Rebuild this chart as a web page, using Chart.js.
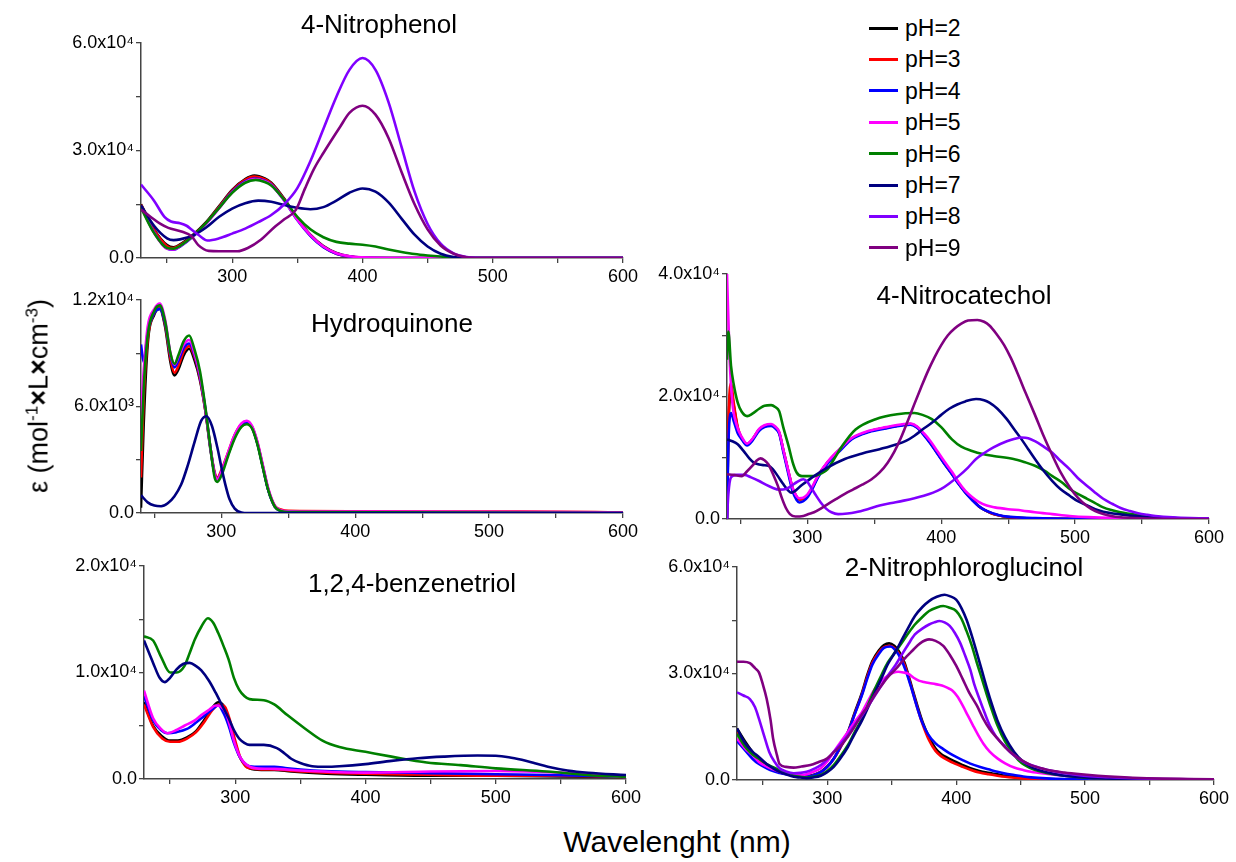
<!DOCTYPE html>
<html><head><meta charset="utf-8">
<script src="https://cdn.jsdelivr.net/npm/chart.js@4.4.1/dist/chart.umd.min.js"></script>
<style>
body{margin:0;background:#fff;width:1236px;height:862px;position:relative;overflow:hidden;font-family:"Liberation Sans",Arial,sans-serif;}
canvas{position:absolute;}
.t{position:absolute;white-space:nowrap;color:#000;transform:translate(-50%,-50%);line-height:1;}
.ptitle{font-size:26px;}
.lg{position:absolute;height:0;}
.lgline{position:absolute;width:29px;height:3px;}
.lgtxt{position:absolute;font-size:23px;transform:translateY(-50%);white-space:nowrap;line-height:1;}
</style></head><body>
<canvas id="cA"></canvas><canvas id="cB"></canvas><canvas id="cC"></canvas><canvas id="cD"></canvas><canvas id="cE"></canvas>
<div class="t ptitle" style="left:379px;top:24px;">4-Nitrophenol</div>
<div class="t ptitle" style="left:392px;top:323px;">Hydroquinone</div>
<div class="t ptitle" style="left:412px;top:583px;">1,2,4-benzenetriol</div>
<div class="t ptitle" style="left:964px;top:295px;">4-Nitrocatechol</div>
<div class="t ptitle" style="left:964px;top:567px;">2-Nitrophloroglucinol</div>
<div class="t" style="left:38px;top:396px;font-size:27px;transform:translate(-50%,-50%) rotate(-90deg);">ε (mol<sup style="font-size:17px">-1</sup><b>×</b>L<b>×</b>cm<sup style="font-size:17px">-3</sup>)</div>
<div class="t" style="left:677px;top:842px;font-size:30px;">Wavelenght (nm)</div>
<div id="legend"></div>
<script>
// ---------- legend / series ----------
const phLabels = ['pH=2','pH=3','pH=4','pH=5','pH=6','pH=7','pH=8','pH=9'];
const phColors = ['#000000','#ff0000','#0000ff','#ff00ff','#008000','#000080','#8000ff','#800080'];

// ---------- tick values / labels ----------
const xTicks = [250,300,350,400,450,500,550,600];
const npYTicks = [0,1.5e4,3e4,4.5e4,6e4];   const npYLabels = ['0.0','','3.0x10\u2074','','6.0x10\u2074'];
const hqYTicks = [0,3e3,6e3,9e3,1.2e4];     const hqYLabels = ['0.0','','6.0x10\u00B3','','1.2x10\u2074'];
const btYTicks = [0,5e3,1e4,1.5e4,2e4];     const btYLabels = ['0.0','','1.0x10\u2074','','2.0x10\u2074'];
const ncYTicks = [0,1e4,2e4,3e4,4e4];       const ncYLabels = ['0.0','','2.0x10\u2074','','4.0x10\u2074'];
const phYTicks = [0,1.5e4,3e4,4.5e4,6e4];   const phYLabels = ['0.0','','3.0x10\u2074','','6.0x10\u2074'];

// ---------- 4-Nitrophenol  [nm, epsilon/1e4] ----------
const np2 = [[230,1.5],[240,0.8],[250,0.36],[255,0.3],[260,0.38],[270,0.65],[280,1.0],[290,1.45],[300,1.9],[310,2.2],[317,2.3],[325,2.22],[330,2.1],[340,1.65],[350,1.1],[360,0.65],[370,0.33],[380,0.14],[390,0.05],[400,0.015],[420,0],[600,0]];
const np3 = [[230,1.48],[240,0.78],[250,0.33],[255,0.28],[260,0.36],[270,0.63],[280,0.98],[290,1.43],[300,1.88],[310,2.18],[317,2.27],[325,2.2],[330,2.08],[340,1.63],[350,1.08],[360,0.63],[370,0.31],[380,0.12],[390,0.04],[400,0.01],[420,0],[600,0]];
const np4 = [[230,1.45],[240,0.72],[250,0.26],[255,0.23],[260,0.32],[270,0.6],[280,0.96],[290,1.4],[300,1.85],[310,2.14],[317,2.22],[325,2.16],[330,2.05],[340,1.6],[350,1.06],[360,0.62],[370,0.3],[380,0.12],[390,0.04],[400,0.01],[420,0],[600,0]];
const np5 = [[230,1.43],[240,0.71],[250,0.26],[255,0.24],[260,0.33],[270,0.61],[280,0.96],[290,1.39],[300,1.83],[310,2.12],[317,2.2],[325,2.14],[330,2.04],[340,1.6],[350,1.07],[360,0.64],[370,0.32],[380,0.13],[390,0.05],[400,0.02],[420,0],[600,0]];
const np6 = [[230,1.4],[240,0.7],[250,0.28],[255,0.26],[260,0.34],[270,0.62],[280,0.98],[290,1.4],[300,1.82],[310,2.1],[318,2.18],[325,2.12],[330,2.02],[340,1.62],[350,1.15],[360,0.8],[370,0.58],[380,0.45],[390,0.4],[400,0.37],[410,0.32],[420,0.24],[430,0.17],[440,0.11],[450,0.07],[460,0.04],[470,0.02],[480,0],[600,0]];
const np7 = [[230,1.47],[240,0.9],[250,0.55],[255,0.5],[260,0.52],[270,0.63],[280,0.85],[290,1.15],[300,1.38],[310,1.53],[320,1.6],[330,1.57],[340,1.48],[350,1.4],[360,1.36],[370,1.42],[380,1.6],[390,1.82],[400,1.94],[410,1.85],[420,1.55],[430,1.1],[440,0.65],[450,0.32],[460,0.12],[470,0.03],[480,0],[600,0]];
const np8 = [[230,2.05],[240,1.6],[248,1.15],[253,1.02],[260,0.97],[265,0.9],[269,0.79],[275,0.62],[281,0.49],[290,0.55],[300,0.68],[310,0.82],[320,1.0],[330,1.2],[340,1.5],[350,1.95],[360,2.7],[370,3.6],[380,4.5],[390,5.25],[400,5.58],[410,5.25],[420,4.35],[430,3.1],[440,1.85],[450,0.95],[460,0.4],[470,0.13],[480,0.03],[490,0],[600,0]];
const np9 = [[230,1.35],[237,1.16],[245,0.95],[251,0.84],[261,0.74],[269,0.6],[274,0.36],[282,0.2],[290,0.19],[304,0.19],[312,0.28],[322,0.51],[333,0.88],[340,1.08],[349,1.35],[356,1.95],[363,2.5],[370,2.93],[383,3.67],[390,4.05],[400,4.25],[410,4.0],[420,3.35],[430,2.4],[440,1.5],[450,0.8],[460,0.35],[470,0.12],[480,0.02],[490,0],[600,0]];

// ---------- Hydroquinone [nm, epsilon/1e3] ----------
const hq2 = [[240,0.3],[242,5.0],[245,9.5],[250,11.2],[254,11.5],[258,10.5],[262,8.5],[265,7.75],[268,8.1],[272,8.9],[276,9.25],[280,8.6],[284,7.5],[288,5.8],[292,3.5],[295,2.2],[297,1.9],[300,2.3],[305,3.3],[310,4.3],[315,4.9],[319,5.05],[323,4.8],[327,3.9],[331,2.6],[335,1.3],[340,0.35],[345,0.1],[350,0.05],[400,0.02],[600,0]];
const hq3 = [[240,2.0],[242,6.5],[245,9.8],[250,11.3],[254,11.6],[258,10.6],[262,8.7],[265,7.9],[268,8.3],[272,9.1],[276,9.4],[280,8.8],[284,7.6],[288,5.8],[292,3.6],[295,2.3],[297,2.0],[300,2.4],[305,3.4],[310,4.4],[315,5.0],[319,5.1],[323,4.85],[327,3.95],[331,2.65],[335,1.35],[340,0.4],[345,0.18],[350,0.12],[400,0.1],[500,0.08],[580,0.06],[600,0.03]];
const hq4 = [[240,9.5],[242,8.5],[245,10.2],[250,11.3],[254,11.5],[258,10.7],[262,8.9],[265,8.2],[268,8.6],[272,9.3],[276,9.55],[280,8.9],[284,7.7],[288,5.9],[292,3.6],[295,2.2],[297,1.9],[300,2.3],[305,3.3],[310,4.35],[315,4.95],[319,5.08],[323,4.82],[327,3.9],[331,2.6],[335,1.3],[340,0.35],[345,0.1],[350,0.05],[400,0.03],[600,0]];
const hq5 = [[240,5.5],[242,8.0],[245,10.5],[250,11.5],[254,11.8],[258,10.9],[262,9.0],[265,8.35],[268,8.8],[272,9.5],[276,9.75],[280,9.0],[284,7.8],[288,5.9],[292,3.6],[295,2.2],[297,1.9],[300,2.3],[305,3.4],[310,4.4],[315,5.05],[319,5.2],[323,4.9],[327,4.0],[331,2.7],[335,1.4],[340,0.4],[345,0.15],[350,0.1],[400,0.08],[550,0.06],[600,0.03]];
const hq6 = [[240,3.5],[242,7.0],[245,10.0],[250,11.4],[254,11.7],[258,10.8],[262,9.0],[265,8.4],[268,8.9],[272,9.7],[276,10.0],[280,9.2],[284,8.0],[288,6.0],[292,3.6],[295,2.0],[297,1.75],[300,2.1],[305,3.2],[310,4.2],[315,4.85],[319,5.0],[323,4.75],[327,3.85],[331,2.55],[335,1.3],[340,0.35],[345,0.1],[350,0.05],[600,0]];
const hq7 = [[240,1.0],[245,0.6],[250,0.42],[255,0.38],[260,0.55],[265,0.95],[270,1.6],[275,2.7],[280,4.0],[285,5.2],[289,5.45],[293,4.9],[297,3.7],[300,2.6],[303,1.6],[306,0.8],[310,0.25],[315,0.03],[320,0],[600,0]];
const hq8 = [];
const hq9 = [];

// ---------- 1,2,4-benzenetriol [nm, epsilon/1e4] ----------
const bt2 = [[230,0.72],[237,0.5],[244,0.4],[250,0.36],[256,0.36],[263,0.39],[270,0.45],[276,0.55],[282,0.66],[287,0.72],[291,0.69],[295,0.56],[299,0.38],[303,0.22],[307,0.14],[311,0.1],[320,0.085],[330,0.085],[343,0.07],[370,0.05],[400,0.04],[450,0.03],[500,0.03],[550,0.025],[600,0.02]];
const bt3 = [[230,0.7],[237,0.49],[244,0.38],[250,0.35],[256,0.35],[263,0.38],[270,0.44],[276,0.53],[282,0.64],[288,0.7],[292,0.68],[296,0.55],[300,0.36],[304,0.2],[308,0.12],[312,0.1],[320,0.09],[330,0.09],[345,0.075],[370,0.06],[400,0.05],[450,0.04],[500,0.03],[550,0.03],[600,0.02]];
const bt4 = [[230,0.78],[237,0.55],[243,0.46],[248,0.43],[255,0.44],[263,0.47],[270,0.53],[276,0.59],[282,0.65],[287,0.69],[291,0.62],[295,0.5],[299,0.34],[303,0.22],[307,0.15],[311,0.12],[320,0.115],[330,0.115],[340,0.1],[360,0.08],[380,0.07],[400,0.065],[450,0.055],[500,0.045],[550,0.035],[600,0.02]];
const bt5 = [[230,0.83],[237,0.57],[243,0.47],[248,0.43],[255,0.46],[261,0.5],[269,0.55],[274,0.6],[280,0.65],[285,0.69],[289,0.68],[293,0.62],[297,0.45],[300,0.32],[304,0.2],[309,0.13],[316,0.1],[330,0.095],[350,0.08],[400,0.06],[450,0.07],[500,0.075],[550,0.06],[600,0.02]];
const bt6 = [[230,1.34],[237,1.3],[243,1.15],[250,1.0],[255,1.0],[261,1.06],[265,1.18],[269,1.31],[274,1.43],[279,1.51],[283,1.47],[287,1.37],[291,1.25],[295,1.12],[299,0.95],[303,0.84],[307,0.78],[311,0.75],[322,0.74],[330,0.7],[340,0.6],[354,0.47],[367,0.36],[380,0.3],[400,0.255],[420,0.21],[447,0.155],[473,0.13],[500,0.1],[539,0.07],[579,0.03],[600,0.02]];
const bt7 = [[230,1.3],[237,1.09],[242,0.95],[246,0.91],[250,0.95],[255,1.03],[260,1.08],[265,1.09],[270,1.06],[274,1.02],[280,0.92],[285,0.81],[290,0.69],[295,0.57],[299,0.46],[303,0.38],[307,0.34],[311,0.32],[322,0.32],[332,0.29],[338,0.24],[343,0.19],[350,0.15],[359,0.12],[370,0.115],[380,0.12],[400,0.14],[420,0.17],[440,0.195],[460,0.21],[486,0.22],[500,0.218],[510,0.205],[520,0.18],[530,0.148],[540,0.115],[555,0.08],[571,0.058],[600,0.037]];
const bt8 = [];
const bt9 = [];

// ---------- 4-Nitrocatechol [nm, epsilon/1e4] ----------
const nc2 = [[240,0],[241,1.4],[243,2.1],[245,1.85],[248,1.48],[251,1.32],[255,1.22],[259,1.3],[264,1.46],[268,1.52],[273,1.54],[276,1.5],[279,1.41],[282,1.13],[286,0.76],[289,0.5],[292,0.36],[294,0.32],[297,0.33],[300,0.38],[304,0.52],[308,0.7],[315,0.92],[326,1.17],[333,1.31],[346,1.43],[359,1.49],[372,1.54],[377,1.55],[382,1.5],[387,1.38],[392,1.24],[397,1.08],[402,0.92],[408,0.74],[413,0.58],[418,0.44],[423,0.32],[428,0.21],[433,0.14],[439,0.08],[446,0.045],[454,0.025],[470,0.01],[500,0],[600,0]];
const nc3 = [[240,0],[241,1.5],[243,2.22],[245,1.9],[248,1.5],[251,1.32],[255,1.22],[259,1.3],[264,1.46],[268,1.52],[273,1.54],[276,1.5],[279,1.41],[282,1.13],[286,0.76],[289,0.5],[292,0.36],[294,0.32],[297,0.33],[300,0.38],[304,0.52],[308,0.7],[315,0.92],[326,1.17],[333,1.31],[346,1.43],[359,1.49],[372,1.54],[377,1.55],[382,1.5],[387,1.38],[392,1.24],[397,1.08],[402,0.92],[408,0.74],[413,0.58],[418,0.44],[423,0.32],[428,0.21],[433,0.14],[439,0.08],[446,0.045],[454,0.025],[470,0.01],[500,0],[600,0]];
const nc4 = [[240,0],[241,1.2],[243,1.73],[245,1.6],[248,1.4],[251,1.3],[255,1.2],[259,1.28],[264,1.44],[268,1.5],[273,1.52],[276,1.48],[279,1.39],[282,1.1],[286,0.72],[289,0.45],[292,0.31],[294,0.27],[297,0.29],[300,0.35],[304,0.5],[308,0.68],[315,0.9],[326,1.15],[333,1.3],[346,1.42],[359,1.48],[372,1.53],[377,1.54],[382,1.49],[387,1.37],[392,1.23],[397,1.07],[402,0.91],[408,0.73],[413,0.57],[418,0.43],[423,0.31],[428,0.21],[433,0.14],[439,0.09],[446,0.05],[454,0.03],[470,0.015],[500,0.005],[600,0]];
const nc5 = [[240,4.0],[242,2.6],[244,1.9],[247,1.55],[251,1.34],[255,1.23],[259,1.31],[264,1.47],[268,1.53],[273,1.55],[276,1.51],[279,1.42],[282,1.14],[286,0.77],[289,0.51],[292,0.37],[294,0.34],[297,0.35],[300,0.4],[304,0.54],[308,0.71],[315,0.93],[326,1.18],[333,1.32],[346,1.44],[359,1.5],[372,1.55],[377,1.56],[382,1.51],[387,1.4],[392,1.27],[397,1.11],[402,0.95],[408,0.77],[413,0.6],[418,0.46],[423,0.36],[428,0.28],[434,0.22],[440,0.19],[450,0.16],[460,0.14],[470,0.11],[483,0.08],[496,0.05],[510,0.03],[530,0.015],[560,0.005],[600,0]];
const nc6 = [[240,2.6],[241,3.06],[243,2.5],[245,2.2],[248,1.9],[251,1.75],[255,1.68],[259,1.72],[264,1.8],[268,1.85],[273,1.86],[276,1.83],[279,1.76],[282,1.5],[286,1.19],[289,0.93],[292,0.76],[296,0.7],[300,0.7],[305,0.7],[310,0.74],[315,0.81],[320,0.98],[326,1.19],[336,1.46],[351,1.63],[367,1.71],[380,1.73],[386,1.7],[393,1.63],[400,1.5],[408,1.3],[415,1.18],[423,1.11],[431,1.06],[439,1.03],[454,0.98],[462,0.93],[470,0.87],[477,0.79],[483,0.7],[490,0.6],[496,0.49],[502,0.41],[509,0.33],[515,0.26],[521,0.19],[534,0.11],[547,0.065],[560,0.035],[573,0.016],[600,0.005]];
const nc7 = [[240,1.3],[244,1.27],[248,1.22],[252,1.12],[257,0.98],[260,0.92],[264,0.89],[267,0.88],[271,0.87],[274,0.82],[278,0.7],[282,0.57],[286,0.46],[288,0.43],[291,0.46],[295,0.54],[300,0.62],[305,0.7],[315,0.84],[328,0.98],[341,1.07],[354,1.14],[367,1.22],[374,1.28],[380,1.36],[386,1.46],[393,1.57],[400,1.7],[406,1.8],[412,1.87],[418,1.92],[426,1.96],[432,1.94],[436,1.9],[442,1.8],[449,1.63],[455,1.45],[460,1.3],[465,1.14],[470,0.98],[476,0.8],[483,0.62],[489,0.49],[496,0.38],[502,0.29],[509,0.22],[515,0.16],[521,0.12],[534,0.075],[547,0.043],[573,0.015],[600,0.005]];
const nc8 = [[240,0],[241,0.4],[243,0.68],[247,0.72],[253,0.72],[258,0.68],[264,0.62],[269,0.56],[274,0.51],[279,0.48],[284,0.49],[288,0.54],[292,0.6],[297,0.65],[300,0.61],[302,0.54],[306,0.4],[310,0.27],[314,0.17],[318,0.11],[323,0.08],[330,0.09],[336,0.11],[345,0.16],[354,0.22],[363,0.26],[372,0.3],[380,0.34],[387,0.38],[394,0.43],[400,0.49],[406,0.58],[413,0.7],[420,0.84],[426,0.98],[433,1.09],[439,1.17],[449,1.27],[455,1.31],[460,1.33],[465,1.32],[470,1.27],[476,1.19],[483,1.08],[489,0.95],[496,0.81],[502,0.67],[509,0.54],[515,0.43],[521,0.33],[528,0.245],[534,0.18],[541,0.13],[547,0.095],[554,0.068],[560,0.05],[573,0.027],[586,0.015],[600,0.01]];
const nc9 = [[240,0.73],[245,0.72],[251,0.7],[255,0.78],[259,0.87],[262,0.95],[265,0.99],[268,0.96],[271,0.89],[274,0.75],[278,0.54],[281,0.34],[284,0.18],[287,0.08],[291,0.04],[297,0.05],[301,0.08],[305,0.11],[310,0.17],[315,0.24],[321,0.32],[328,0.41],[334,0.48],[341,0.56],[348,0.65],[354,0.76],[360,0.92],[365,1.1],[370,1.33],[375,1.6],[380,1.88],[385,2.15],[390,2.41],[395,2.64],[400,2.84],[405,3.0],[410,3.11],[415,3.19],[420,3.24],[427,3.25],[432,3.22],[436,3.16],[441,3.03],[447,2.84],[452,2.63],[457,2.38],[463,2.06],[470,1.7],[476,1.38],[483,1.04],[489,0.77],[496,0.52],[502,0.35],[509,0.21],[515,0.13],[521,0.08],[528,0.045],[540,0.02],[560,0.005],[600,0]];

// ---------- 2-Nitrophloroglucinol [nm, epsilon/1e4] ----------
const pg2 = [[230,1.45],[236,1.1],[242,0.79],[247,0.58],[253,0.42],[258,0.31],[263,0.23],[268,0.19],[274,0.16],[279,0.13],[284,0.11],[289,0.14],[295,0.23],[300,0.38],[305,0.6],[310,0.92],[316,1.35],[321,1.87],[327,2.47],[331,2.95],[335,3.35],[340,3.65],[344,3.8],[348,3.85],[352,3.78],[356,3.6],[360,3.3],[363,2.95],[366,2.57],[370,2.08],[374,1.63],[379,1.2],[384,0.89],[388,0.74],[392,0.65],[399,0.52],[405,0.42],[411,0.33],[418,0.25],[425,0.2],[432,0.16],[438,0.12],[445,0.09],[452,0.065],[458,0.05],[470,0.03],[485,0.015],[500,0.01],[600,0]];
const pg3 = [[230,1.35],[236,1.03],[242,0.74],[247,0.55],[253,0.4],[258,0.3],[263,0.22],[268,0.18],[274,0.15],[279,0.12],[284,0.1],[289,0.13],[295,0.22],[300,0.37],[305,0.59],[310,0.9],[316,1.32],[321,1.83],[327,2.42],[331,2.9],[335,3.3],[340,3.6],[344,3.74],[348,3.78],[352,3.72],[356,3.54],[360,3.24],[363,2.9],[366,2.52],[370,2.02],[374,1.57],[379,1.12],[384,0.82],[388,0.68],[392,0.59],[399,0.46],[405,0.37],[411,0.29],[418,0.21],[425,0.16],[432,0.12],[438,0.09],[445,0.065],[452,0.045],[458,0.03],[470,0.015],[485,0.005],[500,0],[600,0]];
const pg4 = [[230,1.1],[236,0.85],[242,0.6],[247,0.45],[253,0.33],[258,0.25],[263,0.2],[268,0.16],[274,0.13],[279,0.11],[284,0.1],[289,0.13],[295,0.22],[300,0.37],[305,0.6],[310,0.92],[316,1.33],[321,1.82],[327,2.4],[331,2.85],[335,3.25],[340,3.55],[344,3.72],[349,3.76],[353,3.65],[357,3.42],[361,3.07],[365,2.62],[369,2.13],[373,1.68],[378,1.3],[384,1.03],[390,0.87],[395,0.75],[400,0.65],[405,0.56],[411,0.46],[418,0.37],[425,0.3],[432,0.23],[438,0.18],[445,0.14],[452,0.1],[458,0.075],[470,0.045],[485,0.025],[500,0.02],[550,0.005],[600,0]];
const pg5 = [[230,1.17],[236,0.9],[242,0.7],[247,0.51],[253,0.38],[258,0.3],[263,0.23],[268,0.18],[274,0.14],[279,0.13],[284,0.16],[289,0.23],[295,0.33],[300,0.52],[305,0.79],[310,1.05],[316,1.35],[321,1.62],[327,1.91],[332,2.25],[337,2.57],[342,2.78],[347,2.94],[351,3.02],[355,3.05],[359,3.03],[363,2.99],[367,2.88],[371,2.8],[375,2.76],[379,2.73],[384,2.7],[389,2.66],[393,2.6],[397,2.52],[401,2.35],[405,2.1],[409,1.82],[413,1.54],[417,1.27],[421,1.03],[426,0.8],[432,0.61],[438,0.47],[445,0.35],[452,0.28],[458,0.23],[471,0.17],[484,0.12],[497,0.08],[510,0.05],[530,0.025],[560,0.01],[600,0]];
const pg6 = [[230,1.3],[236,0.95],[242,0.72],[247,0.6],[253,0.45],[258,0.36],[263,0.28],[268,0.2],[274,0.12],[279,0.09],[284,0.07],[289,0.09],[295,0.14],[300,0.25],[305,0.42],[310,0.66],[316,0.98],[321,1.33],[327,1.73],[332,2.15],[337,2.57],[342,2.95],[347,3.31],[353,3.62],[358,3.87],[363,4.14],[368,4.38],[374,4.6],[379,4.76],[385,4.86],[390,4.9],[395,4.85],[400,4.76],[404,4.55],[408,4.2],[412,3.8],[416,3.31],[420,2.85],[424,2.38],[428,1.94],[432,1.54],[438,1.08],[445,0.7],[451,0.47],[458,0.33],[464,0.25],[471,0.19],[484,0.12],[497,0.07],[510,0.05],[530,0.03],[550,0.02],[600,0]];
const pg7 = [[230,1.45],[236,1.05],[242,0.8],[247,0.65],[253,0.45],[258,0.33],[263,0.23],[268,0.16],[274,0.09],[279,0.07],[284,0.05],[289,0.07],[295,0.12],[300,0.22],[305,0.37],[310,0.6],[316,0.93],[321,1.28],[327,1.68],[332,2.07],[337,2.47],[342,2.86],[347,3.26],[353,3.62],[358,3.96],[363,4.3],[368,4.62],[374,4.88],[379,5.04],[385,5.16],[391,5.22],[395,5.18],[400,5.08],[404,4.85],[408,4.52],[412,4.08],[416,3.59],[420,3.08],[424,2.57],[428,2.1],[432,1.68],[438,1.2],[445,0.79],[451,0.55],[458,0.37],[464,0.28],[471,0.21],[484,0.12],[497,0.08],[510,0.05],[530,0.03],[550,0.02],[600,0]];
const pg8 = [[230,2.47],[235,2.38],[240,2.28],[244,2.05],[247,1.73],[251,1.25],[255,0.79],[259,0.52],[263,0.33],[268,0.24],[274,0.19],[279,0.2],[284,0.23],[290,0.32],[295,0.42],[300,0.58],[305,0.79],[310,1.0],[316,1.26],[321,1.53],[327,1.82],[332,2.1],[337,2.38],[342,2.66],[347,2.94],[353,3.24],[358,3.54],[363,3.83],[368,4.1],[374,4.27],[379,4.38],[383,4.44],[387,4.48],[391,4.44],[395,4.34],[399,4.14],[403,3.87],[407,3.5],[411,3.1],[414,2.7],[418,2.29],[422,1.9],[426,1.54],[431,1.22],[437,0.98],[442,0.78],[448,0.61],[453,0.5],[458,0.42],[465,0.34],[471,0.28],[484,0.19],[497,0.13],[510,0.09],[523,0.07],[537,0.05],[560,0.03],[600,0.01]];
const pg9 = [[230,3.33],[235,3.33],[240,3.29],[244,3.15],[247,3.03],[250,2.7],[253,2.29],[256,1.7],[258,1.17],[261,0.7],[263,0.45],[268,0.37],[274,0.35],[280,0.38],[287,0.42],[293,0.5],[300,0.61],[305,0.78],[311,0.98],[316,1.22],[321,1.49],[326,1.8],[332,2.1],[337,2.4],[342,2.66],[347,2.9],[353,3.12],[359,3.38],[366,3.64],[372,3.85],[379,3.96],[384,3.92],[390,3.78],[395,3.53],[400,3.22],[405,2.85],[410,2.47],[416,2.1],[421,1.73],[426,1.43],[432,1.17],[438,0.92],[445,0.7],[451,0.55],[458,0.42],[465,0.34],[471,0.28],[484,0.21],[497,0.16],[510,0.12],[523,0.09],[537,0.065],[560,0.04],[580,0.03],[600,0.02]];

// ---------- drawing ----------
const FONT = '"Liberation Sans", Arial, sans-serif';
const PADL = 120, PADT = 14, PADR = 28, PADB = 36;
function makePanel(id, box, xMin, yMax, yTicks, yLabels, series, unit){
  const cv = document.getElementById(id);
  const W = box.r - box.l + PADL + PADR, H = box.b - box.t + PADT + PADB;
  cv.width = W; cv.height = H;
  cv.style.left = (box.l - PADL) + 'px'; cv.style.top = (box.t - PADT) + 'px';
  new Chart(cv, {
    type: 'line',
    data: { datasets: series.map((pts, i) => ({
      label: phLabels[i],
      data: pts.map(p => ({x: p[0], y: p[1] * unit})),
      borderColor: phColors[i], backgroundColor: phColors[i],
      borderWidth: 2.6, pointRadius: 0, fill: false,
      cubicInterpolationMode: 'monotone', order: 7 - i
    })) },
    options: {
      responsive: false, animation: false, devicePixelRatio: 1,
      layout: { padding: { left: 0, top: PADT, right: PADR, bottom: 0 } },
      plugins: { legend: { display: false }, tooltip: { enabled: false } },
      events: [],
      scales: {
        x: {
          type: 'linear', min: xMin, max: 600,
          afterBuildTicks: s => { s.ticks = xTicks.map(v => ({value: v})); },
          afterFit: s => { s.height = PADB; },
          grid: { drawOnChartArea: false, drawTicks: true, tickLength: 5, color: '#444', lineWidth: 1.3 },
          border: { display: true, color: '#444', width: 1.5 },
          ticks: { autoSkip: false, maxRotation: 0, padding: 3, color: '#000',
                   font: { family: FONT, size: 18 },
                   callback: v => (v % 100 === 0 ? String(v) : '') }
        },
        y: {
          type: 'linear', min: 0, max: yMax,
          afterBuildTicks: s => { s.ticks = yTicks.map(v => ({value: v})); },
          afterFit: s => { s.width = PADL; },
          grid: { drawOnChartArea: false, drawTicks: true, tickLength: 5, color: '#444', lineWidth: 1.3 },
          border: { display: true, color: '#444', width: 1.5 },
          ticks: { autoSkip: false, padding: 2, color: '#000',
                   font: { family: FONT, size: 18 },
                   callback: (v, idx) => yLabels[idx] }
        }
      }
    }
  });
}
makePanel('cA', {l:141, t:43,  r:623,  b:258}, 230, 6e4,   npYTicks, npYLabels, [np2,np3,np4,np5,np6,np7,np8,np9], 1e4);
makePanel('cB', {l:141, t:300, r:623,  b:513}, 240, 1.2e4, hqYTicks, hqYLabels, [hq2,hq3,hq4,hq5,hq6,hq7,hq8,hq9], 1e3);
makePanel('cC', {l:144, t:566, r:626,  b:779}, 230, 2e4,   btYTicks, btYLabels, [bt2,bt3,bt4,bt5,bt6,bt7,bt8,bt9], 1e4);
makePanel('cD', {l:727, t:274, r:1209, b:519}, 240, 4e4,   ncYTicks, ncYLabels, [nc2,nc3,nc4,nc5,nc6,nc7,nc8,nc9], 1e4);
makePanel('cE', {l:737, t:567, r:1214, b:780}, 230, 6e4,   phYTicks, phYLabels, [pg2,pg3,pg4,pg5,pg6,pg7,pg8,pg9], 1e4);

// legend
const lg = document.getElementById('legend');
phLabels.forEach((lab, i) => {
  const y = 28 + i * 31.4;
  const ln = document.createElement('div');
  ln.className = 'lgline';
  ln.style.cssText = `left:869px;top:${y - 1.5}px;background:${phColors[i]};`;
  const tx = document.createElement('div');
  tx.className = 'lgtxt';
  tx.style.cssText = `left:905px;top:${y}px;`;
  tx.textContent = lab;
  lg.appendChild(ln); lg.appendChild(tx);
});
</script>
</body></html>
